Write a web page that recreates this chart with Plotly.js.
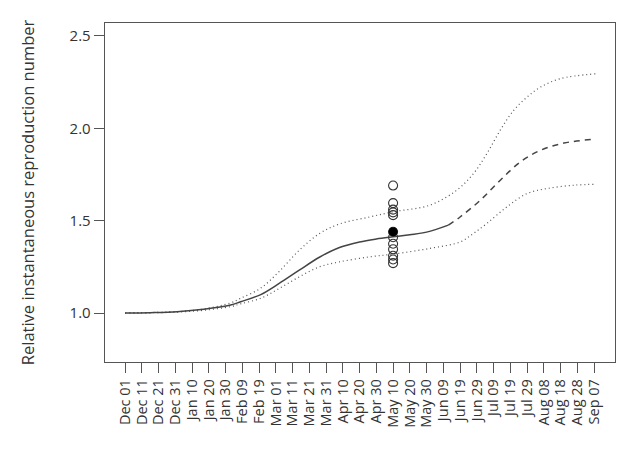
<!DOCTYPE html>
<html>
<head>
<meta charset="utf-8">
<script src="https://cdn.plot.ly/plotly-3.0.1.min.js"></script>
<style>html,body{margin:0;padding:0;background:#fff;}#chart{width:632px;height:449px;}</style>
</head>
<body>
<div id="chart"></div>
<script>
// Tick labels (every 10 days from Dec 01)
const tickLabels = ["Dec 01","Dec 11","Dec 21","Dec 31","Jan 10","Jan 20","Jan 30","Feb 09","Feb 19","Mar 01","Mar 11","Mar 21","Mar 31","Apr 10","Apr 20","Apr 30","May 10","May 20","May 30","Jun 09","Jun 19","Jun 29","Jul 09","Jul 19","Jul 29","Aug 08","Aug 18","Aug 28","Sep 07"];
const tickDays = [0,10,20,30,40,50,60,70,80,90,100,110,120,130,140,150,160,170,180,190,200,210,220,230,240,250,260,270,280];
const yTicks = [1.0, 1.5, 2.0, 2.5];
const yTickText = ['1.0', '1.5', '2.0', '2.5'];

// Central estimate, observed period (solid)
const fitDays = [0, 15, 31, 47, 63, 69, 81, 92, 104, 116, 128, 140, 150, 160, 170, 180, 193];
const fitVals = [1.0, 1.002, 1.007, 1.02, 1.043, 1.061, 1.1, 1.16, 1.232, 1.302, 1.355, 1.385, 1.401, 1.413, 1.424, 1.438, 1.476];

// Central estimate, projection (dashed)
const projDays = [193, 200, 212, 224, 236, 248, 262, 279];
const projVals = [1.476, 1.52, 1.61, 1.719, 1.818, 1.881, 1.92, 1.94];

// Upper bound (dotted)
const upDays = [0, 31, 47, 63, 69, 81, 92, 104, 116, 128, 146, 160, 182, 198, 208, 216, 224, 232, 240, 248, 260, 281];
const upVals = [1.0, 1.008, 1.022, 1.055, 1.08, 1.135, 1.225, 1.34, 1.43, 1.482, 1.52, 1.548, 1.584, 1.665, 1.755, 1.863, 1.99, 2.097, 2.169, 2.223, 2.269, 2.295];

// Lower bound (dotted)
const loDays = [0, 31, 47, 63, 69, 81, 92, 104, 116, 128, 146, 160, 182, 200, 208, 216, 228, 240, 252, 268, 281];
const loVals = [1.0, 1.005, 1.015, 1.035, 1.05, 1.08, 1.133, 1.196, 1.25, 1.277, 1.304, 1.319, 1.35, 1.385, 1.431, 1.485, 1.575, 1.647, 1.674, 1.692, 1.697];

// Point estimates on May 10 (open circles) and highlighted estimate (filled)
const ptDay = 160;
const openVals = [1.69, 1.595, 1.56, 1.545, 1.53, 1.44, 1.41, 1.375, 1.345, 1.31, 1.29, 1.27];
const filledVals = [1.44];

const traces = [
  {x: upDays, y: upVals, mode: 'lines', line: {color: '#555', width: 1.2, dash: '1px,3px', shape: 'spline'}, hoverinfo: 'skip'},
  {x: loDays, y: loVals, mode: 'lines', line: {color: '#555', width: 1.2, dash: '1px,3px', shape: 'spline'}, hoverinfo: 'skip'},
  {x: fitDays, y: fitVals, mode: 'lines', line: {color: '#444', width: 1.5, shape: 'spline'}},
  {x: projDays, y: projVals, mode: 'lines', line: {color: '#444', width: 1.5, dash: '6px,5px', shape: 'spline'}},
  {x: openVals.map(() => ptDay), y: openVals, mode: 'markers', marker: {symbol: 'circle-open', size: 9, color: '#333', line: {width: 1.1, color: '#333'}}},
  {x: filledVals.map(() => ptDay), y: filledVals, mode: 'markers', marker: {symbol: 'circle', size: 9, color: '#000'}}
];

const layout = {
  width: 632, height: 449,
  margin: {l: 105, r: 17, t: 23, b: 87},
  paper_bgcolor: '#fff', plot_bgcolor: '#fff',
  showlegend: false,
  font: {family: 'Open Sans, sans-serif', color: '#333', size: 14.5},
  xaxis: {
    range: [-12, 292.5],
    tickmode: 'array', tickvals: tickDays, ticktext: tickLabels,
    tickangle: -90,
    ticks: 'outside', ticklen: 10, tickcolor: '#555', tickwidth: 1,
    showline: true, linecolor: '#555', linewidth: 1.3, mirror: true,
    showgrid: false, zeroline: false,
    tickfont: {size: 14.5, color: '#333'}
  },
  yaxis: {
    range: [0.735, 2.57],
    tickmode: 'array', tickvals: yTicks, ticktext: yTickText,
    ticks: 'outside', ticklen: 10, tickcolor: '#555', tickwidth: 1,
    showline: true, linecolor: '#555', linewidth: 1.3, mirror: true,
    showgrid: false, zeroline: false,
    tickfont: {size: 15, color: '#333'},
    title: {text: 'Relative instantaneous reproduction number', font: {size: 16.5, color: '#333'}, standoff: 30}
  }
};

Plotly.newPlot('chart', traces, layout, {staticPlot: true, displayModeBar: false});
</script>
</body>
</html>
